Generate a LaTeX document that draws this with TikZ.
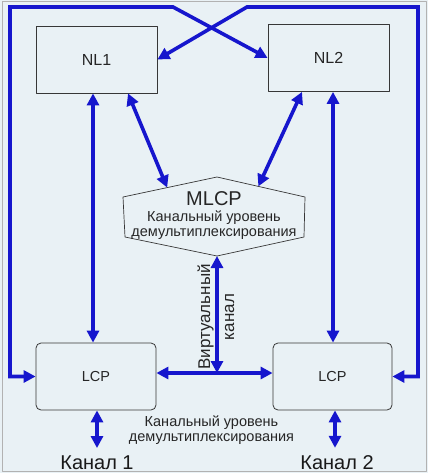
\documentclass[tikz,border=0pt]{standalone}
\usepackage{fontspec}
\setmainfont{Liberation Sans}
\usetikzlibrary{arrows.meta,calc}
\definecolor{paneblue}{RGB}{233,241,245}
\definecolor{linkblue}{RGB}{22,22,205}
\definecolor{edgegray}{RGB}{55,55,55}
\begin{document}
\begin{tikzpicture}[x=1pt,y=-1pt,line cap=round,line join=round,
  layerbox/.style={draw=edgegray,line width=0.8pt,text=black!85,minimum width=121pt,minimum height=67pt,inner sep=0pt,font=\fontsize{16}{18}\selectfont},
  lcpbox/.style={layerbox,rounded corners=5pt,minimum width=120pt,font=\fontsize{14.5}{17}\selectfont},
  link/.style={draw=linkblue,line width=3.6pt,line cap=butt,line join=miter,{Triangle[length=12pt,width=12pt]}-{Triangle[length=12pt,width=12pt]}},
  hexline/.style={draw=edgegray,line width=0.7pt},
  levelnote/.style={text=black!85,align=center,inner sep=0pt,font=\fontsize{14.5}{15}\selectfont},
  chanlabel/.style={text=black!90,inner sep=1pt,font=\fontsize{20}{22}\selectfont}]
  \useasboundingbox (0,0) rectangle (428,473);
  \fill[paneblue] (0,0) rectangle (428,473);
  \draw[black!30,line width=1pt] (2.5,1.5) rectangle (426,471.5);
  \node[layerbox] (nl1) at (96.5,59.5) {NL1};
  \node[layerbox] (nl2) at (328.5,58) {NL2};
  \node[lcpbox] (lcp1) at (96,376.5) {LCP};
  \node[lcpbox,minimum width=119pt] (lcp2) at (332.5,376.5) {LCP};
  \coordinate (hexW) at (123,197);
  \coordinate (hexN) at (217,177);
  \coordinate (hexE) at (305,197);
  \coordinate (hexSE) at (304,237);
  \coordinate (hexS) at (217,256);
  \coordinate (hexSW) at (125,237);
  \draw[hexline] (hexW) -- (hexN) -- (hexE) -- (hexSE) -- (hexS) -- (hexSW) -- cycle;
  \node[levelnote] (mlcp) at (214,216) {{\fontsize{20}{20}\selectfont MLCP}\\[1pt]Канальный уровень\\демультиплексирования};
  \node[levelnote,font=\fontsize{17}{24}\selectfont,rotate=90] (vchan) at (216,317) {Виртуальный\\канал};
  \node[levelnote] (demux) at (211.5,430) {Канальный уровень\\демультиплексирования};
  \node[chanlabel,anchor=base] (ch1) at (97,469) {Канал 1};
  \node[chanlabel,anchor=base] (ch2) at (337,469) {Канал 2};
  \coordinate (mlcpA) at ($(hexW)!0.47!(hexN)$);
  \coordinate (mlcpB) at ($(hexN)!0.47!(hexE)$);
  \coordinate (vjoin) at (217,373);
  \coordinate (crossL) at (173,7);
  \coordinate (frameTL) at (10,7);
  \coordinate (crossR) at (247,7);
  \coordinate (frameTR) at (418,7);
  \draw[link] ([xshift=-3.5pt]nl1.south) -- ([xshift=-3.5pt]nl1.south |- lcp1.north);
  \draw[link] ([xshift=4.5pt]nl2.south) -- ([xshift=4.5pt]nl2.south |- lcp2.north);
  \draw[link] ([xshift=31.5pt]nl1.south) -- (mlcpA);
  \draw[link] ([xshift=-26.5pt]nl2.south) -- (mlcpB);
  \draw[link] (hexS) -- (vjoin);
  \draw[link] ([yshift=3.5pt]lcp1.east) -- ([yshift=3.5pt]lcp1.east -| lcp2.west);
  \draw[link] (nl2.west) -- (crossL) -- (frameTL) |- (lcp1.west);
  \draw[link] (nl1.east) -- (crossR) -- (frameTR) |- (lcp2.east);
  \draw[link,shorten >=6pt] ([xshift=1pt]lcp1.south) -- ([xshift=1pt]lcp1.south |- ch1.north);
  \draw[link,shorten >=6pt] ([xshift=2.5pt]lcp2.south) -- ([xshift=2.5pt]lcp2.south |- ch2.north);
\end{tikzpicture}
\end{document}
